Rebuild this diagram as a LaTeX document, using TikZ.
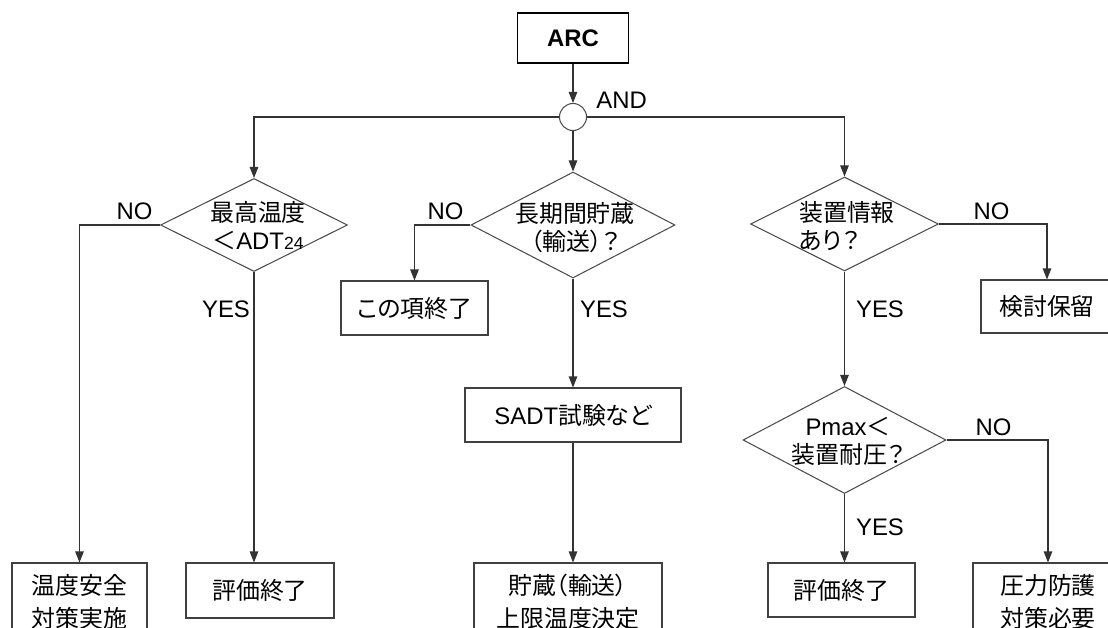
\documentclass[tikz,border=0pt]{standalone}
\usepackage{fontspec}
\setmainfont{Liberation Sans}
\newfontfamily\jp[RawFeature=+palt]{Noto Sans CJK JP}
\usetikzlibrary{shapes.geometric,arrows.meta}

\tikzset{
	caixa/.style={draw=black!75, line width=0.6pt, align=center, inner sep=0pt,
		font={\jp\fontsize{13.6}{18.7}\selectfont}},
	losango/.style={diamond, draw=black!70, line width=0.6pt, inner sep=0pt},
	txtlos/.style={align=center, inner sep=0pt, font={\fontsize{13.6}{16}\selectfont}},
	rotulo/.style={inner sep=0pt, font={\fontsize{13.6}{16}\selectfont}},
	seta/.style={draw=black!80, line width=0.6pt, -{Triangle[length=2.2mm,width=1.7mm]}}
}

\begin{document}
\begin{tikzpicture}
		\useasboundingbox (0,0) rectangle (22.16,-12.56);
		\clip (0,0) rectangle (22.16,-12.56);

		% Topo
		\node[draw, line width=1pt, minimum width=2.22cm, minimum height=1cm,
			font={\bfseries\fontsize{13.6}{16}\selectfont}] (arc) at (11.46,-0.76) {ARC};
		\node[circle, draw=black!70, line width=0.6pt, minimum size=0.54cm, inner sep=0pt] (and) at (11.46,-2.34) {};
		\node[rotulo, anchor=west] (andl) at (11.92,-2.0) {AND};					% Rótulo AND

		% Losangos
		\node[losango, minimum width=3.74cm, minimum height=1.86cm] (d1) at (5.08,-4.5) {};
		\node[txtlos] (t1) at (5.16,-4.52) {{\jp 最高温度}\\{\jp ＜}ADT{\fontsize{10}{12}\selectfont 24}};
		\node[losango, minimum width=4.08cm, minimum height=2.12cm] (d2) at (11.46,-4.5) {};
		\node[txtlos] (t2) at (11.5,-4.56) {\jp 長期間貯蔵\\\jp （輸送）？};
		\node[losango, minimum width=3.76cm, minimum height=1.88cm] (d3) at (16.89,-4.48) {};
		\node[txtlos, align=left] (t3) at (16.94,-4.52) {\jp 装置情報\\\jp あり？};
		\node[losango, minimum width=4.06cm, minimum height=2.14cm] (d4) at (16.89,-8.8) {};
		\node[txtlos] (t4) at (16.96,-8.82) {Pmax{\jp ＜}\\{\jp 装置耐圧？}};

		% Caixas
		\node[caixa, minimum width=2.7cm, minimum height=1.54cm] (b1) at (1.59,-12.03) {温度安全\\対策実施};
		\node[caixa, minimum width=2.96cm, minimum height=1.1cm] (b2) at (5.2,-11.81) {評価終了};
		\node[caixa, minimum width=2.94cm, minimum height=1.08cm] (b3) at (8.29,-6.16) {この項終了};
		\node[caixa, minimum width=4.32cm, minimum height=1.08cm,
			font={\fontsize{13.6}{16}\selectfont}] (b4) at (11.46,-8.3) {SADT{\jp 試験など}};
		\node[caixa, minimum width=3.76cm, minimum height=1.54cm] (b5) at (11.36,-12.03) {貯蔵（輸送）\\上限温度決定};
		\node[caixa, minimum width=2.64cm, minimum height=1.06cm] (b6) at (20.94,-6.13) {検討保留};
		\node[caixa, minimum width=2.94cm, minimum height=1.08cm] (b7) at (16.83,-11.8) {評価終了};
		\node[caixa, minimum width=3.0cm, minimum height=1.54cm] (b8) at (20.96,-12.03) {圧力防護\\対策必要};

		% Rótulos
		\node[rotulo] (no1) at (2.69,-4.22) {NO};
		\node[rotulo] (yes1) at (4.52,-6.18) {YES};
		\node[rotulo] (no2) at (8.91,-4.22) {NO};
		\node[rotulo] (yes2) at (12.08,-6.18) {YES};
		\node[rotulo] (no3) at (19.83,-4.22) {NO};
		\node[rotulo] (yes3) at (17.6,-6.18) {YES};
		\node[rotulo] (no4) at (19.87,-8.54) {NO};
		\node[rotulo] (yes4) at (17.6,-10.54) {YES};

		% Setas
		\draw[seta] (arc) -- (and);
		\draw[seta] (and.west) -| (d1.north);
		\draw[seta] (and.south) -- (d2.north);
		\draw[seta] (and.east) -| (d3.north);
		\draw[seta] (d1.west) -| (b1.north);
		\draw[seta] (d1.south) -- (d1.south |- b2.north);
		\draw[seta] (d2.west) -| (b3.north);
		\draw[seta] (d2.south) -- (b4.north);
		\draw[seta] (b4.south) -- (b4.south |- b5.north);
		\draw[seta] (d3.east) -| (b6.north);
		\draw[seta] (d3.south) -- (d4.north);
		\draw[seta] (d4.east) -| (b8.north);
		\draw[seta] (d4.south) -- (d4.south |- b7.north);
	\end{tikzpicture}
\end{document}
